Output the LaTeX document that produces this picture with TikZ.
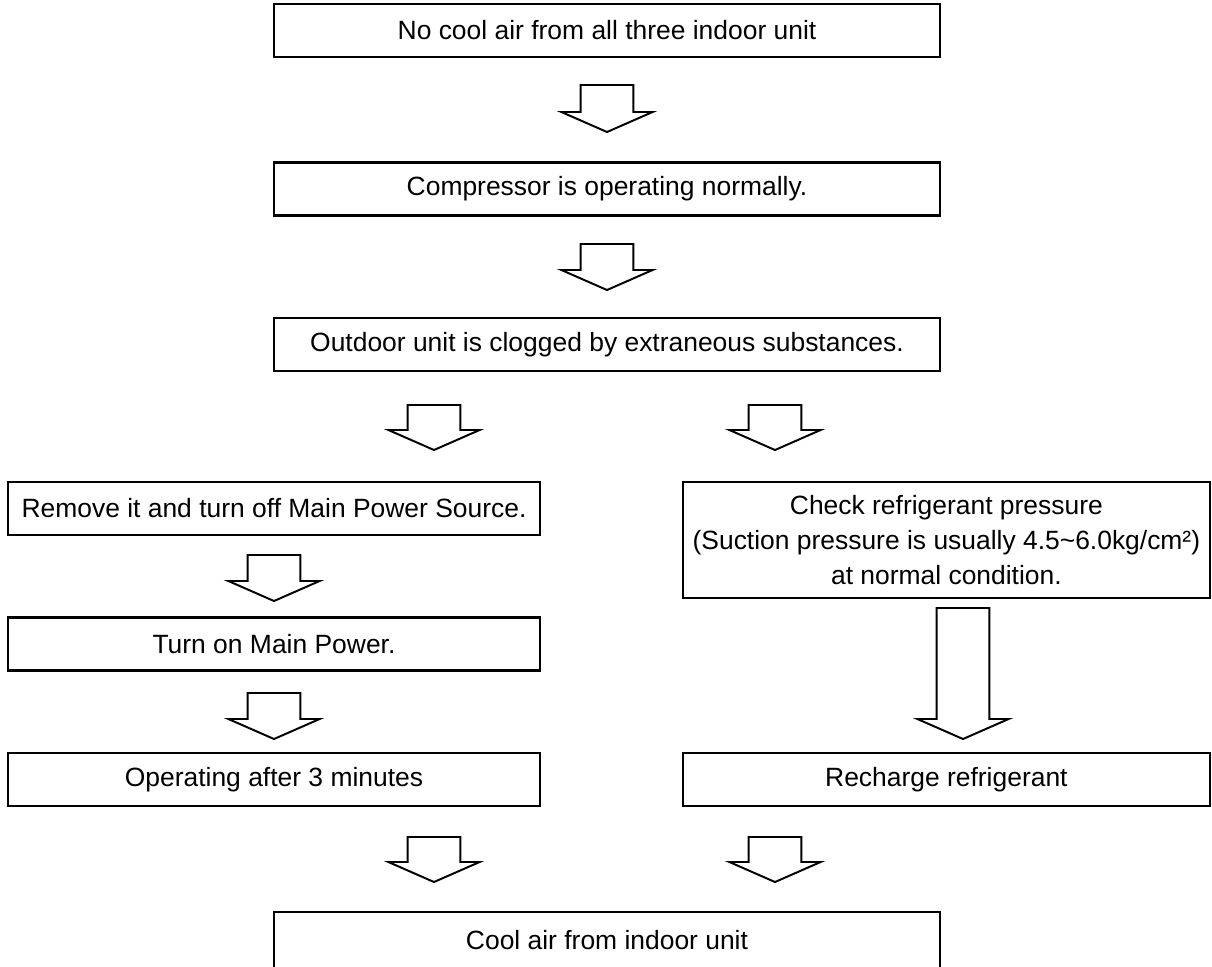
\documentclass[tikz,border=0pt]{standalone}
\usepackage{fontspec}
\setmainfont{Liberation Sans}
\usepackage{tikz}
\usetikzlibrary{positioning, calc}
\tikzset{
    flowbox/.style={
        rectangle,
        minimum height=1.33cm,
        inner sep=2pt,
        align=center,
        draw=black,
        line width=1.6pt,
        font=\fontsize{18.8pt}{25pt}\selectfont
    },
    widebox/.style={flowbox, minimum width=16.65cm},
    leftbox/.style={flowbox, minimum width=13.3cm},
    rightbox/.style={flowbox, minimum width=13.175cm},
    arrowline/.style={draw=black, fill=white, line width=1.4pt, line join=miter},
    downarrow/.pic={
        \path[arrowline] (-0.66,0) -- (0.66,0) -- (0.66,{-#1}) -- (1.14,{-#1})
            -- (0,{-#1-0.5}) -- (-1.14,{-#1}) -- (-0.66,{-#1}) -- cycle;
    }
}
\begin{document}
\begin{tikzpicture}
\useasboundingbox (0,0) rectangle (30.3,-24.15);
\clip (0,0) rectangle (30.3,-24.15);

% Main column
\node[widebox] (n_nocool) at (15.175,-0.76) {No cool air from all three indoor unit};
\node[widebox] (n_comp) at (15.175,-4.725) {Compressor is operating normally.};
\node[widebox] (n_outdoor) at (15.175,-8.61) {Outdoor unit is clogged by extraneous substances.};

% Left branch
\node[leftbox] (n_remove) at (6.85,-12.71) {Remove it and turn off Main Power Source.};
\node[leftbox] (n_poweron) at (6.85,-16.1) {Turn on Main Power.};
\node[leftbox] (n_wait) at (6.85,-19.49) {Operating after 3 minutes};

% Right branch
\node[rightbox, minimum height=2.9cm] (n_check) at (23.66,-13.5)
    {Check refrigerant pressure\\(Suction pressure is usually 4.5\textasciitilde6.0kg/cm²)\\at normal condition.};
\node[rightbox] (n_recharge) at (23.66,-19.49) {Recharge refrigerant};

% Result
\node[widebox, minimum height=1.4cm] (n_coolair) at (15.175,-23.5) {Cool air from indoor unit};

% Arrows
\pic at (15.175,-2.125) {downarrow=0.675};
\pic at (15.175,-6.1) {downarrow=0.65};
\pic at (10.85,-10.125) {downarrow=0.625};
\pic at (19.375,-10.125) {downarrow=0.625};
\pic at (6.85,-13.875) {downarrow=0.65};
\pic at (6.85,-17.325) {downarrow=0.65};
\pic at (24.075,-15.2) {downarrow=2.775};
\pic at (10.85,-20.925) {downarrow=0.625};
\pic at (19.375,-20.925) {downarrow=0.625};

\end{tikzpicture}
\end{document}
